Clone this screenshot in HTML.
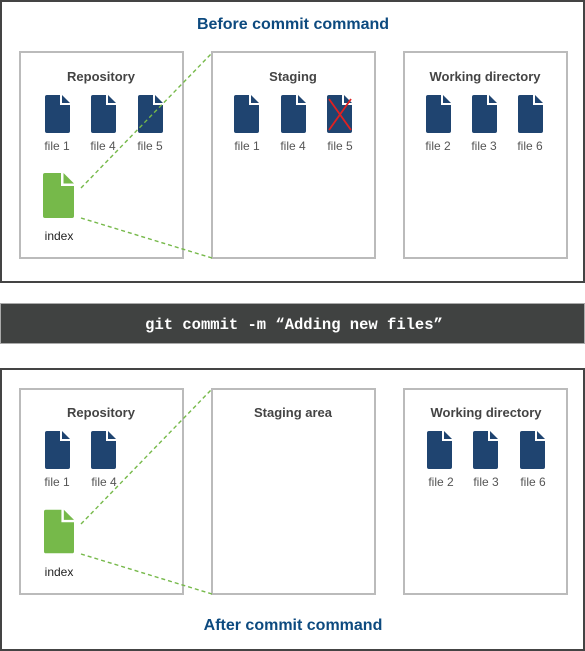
<!DOCTYPE html>
<html><head><meta charset="utf-8"><style>
html,body{margin:0;padding:0;background:#fff;}
svg{display:block;}
text{font-family:"Liberation Sans",sans-serif;}
</style></head><body>
<svg width="585" height="651" viewBox="0 0 585 651" xmlns="http://www.w3.org/2000/svg">
<defs>
<symbol id="f" viewBox="0 0 25 38" overflow="visible">
<path d="M2 0 H15 V10 H25 V36 Q25 38 23 38 H2 Q0 38 0 36 V2 Q0 0 2 0 Z"/>
<path d="M17 0 L25 8 H17 Z"/>
</symbol>
<symbol id="g" viewBox="0 0 31 45" overflow="visible">
<path d="M2 0 H18 V13 H31 V43 Q31 45 29 45 H2 Q0 45 0 43 V2 Q0 0 2 0 Z"/>
<path d="M20.5 0 L31 10.5 H20.5 Z"/>
</symbol>
</defs>
<rect x="1" y="1" width="583" height="281" fill="#fff" stroke="#444" stroke-width="2"/>
<text x="293" y="29" text-anchor="middle" font-size="16" font-weight="bold" fill="#0d4a7f">Before commit command</text>
<g fill="#fff" stroke="#bbb" stroke-width="2">
<rect x="20" y="52" width="163" height="206"/>
<rect x="212" y="52" width="163" height="206"/>
<rect x="404" y="52" width="163" height="206"/>
</g>
<g font-size="13" font-weight="bold" fill="#444" text-anchor="middle">
<text x="101" y="81">Repository</text>
<text x="293" y="81">Staging</text>
<text x="485" y="81">Working directory</text>
</g>
<g fill="#1f4470">
<use href="#f" x="45" y="95" width="25" height="38"/>
<use href="#f" x="91" y="95" width="25" height="38"/>
<use href="#f" x="138" y="95" width="25" height="38"/>
<use href="#f" x="234" y="95" width="25" height="38"/>
<use href="#f" x="281" y="95" width="25" height="38"/>
<use href="#f" x="327" y="95" width="25" height="38"/>
<use href="#f" x="426" y="95" width="25" height="38"/>
<use href="#f" x="472" y="95" width="25" height="38"/>
<use href="#f" x="518" y="95" width="25" height="38"/>
</g>
<path d="M329 130 L351 99 M329 99 L351 130" stroke="#e02020" stroke-width="1.8"/>
<g font-size="12" fill="#555" text-anchor="middle">
<text x="57" y="150">file 1</text><text x="103" y="150">file 4</text><text x="150" y="150">file 5</text>
<text x="247" y="150">file 1</text><text x="293" y="150">file 4</text><text x="340" y="150">file 5</text>
<text x="438" y="150">file 2</text><text x="484" y="150">file 3</text><text x="530" y="150">file 6</text>
</g>
<use href="#g" x="43" y="173" width="31" height="45" fill="#76b94a"/>
<text x="59" y="240" font-size="12" fill="#222" text-anchor="middle">index</text>
<g stroke="#76b94a" stroke-width="1.4" stroke-dasharray="4,3" fill="none">
<path d="M81 188 L212 53"/>
<path d="M81 218 L212 258"/>
</g>
<rect x="0.5" y="303.5" width="584" height="40" fill="#404241" stroke="#aaa" stroke-width="1"/>
<text x="294" y="329" text-anchor="middle" font-size="15.5" font-weight="bold" fill="#fff" style="font-family:'Liberation Mono',monospace">git commit -m “Adding new files”</text>
<rect x="1" y="369" width="583" height="281" fill="#fff" stroke="#444" stroke-width="2"/>
<g fill="#fff" stroke="#bbb" stroke-width="2">
<rect x="20" y="389" width="163" height="205"/>
<rect x="212" y="389" width="163" height="205"/>
<rect x="404" y="389" width="163" height="205"/>
</g>
<g font-size="13" font-weight="bold" fill="#444" text-anchor="middle">
<text x="101" y="417">Repository</text>
<text x="293" y="417">Staging area</text>
<text x="486" y="417">Working directory</text>
</g>
<g fill="#1f4470">
<use href="#f" x="45" y="431" width="25" height="38"/>
<use href="#f" x="91" y="431" width="25" height="38"/>
<use href="#f" x="427" y="431" width="25" height="38"/>
<use href="#f" x="473" y="431" width="25" height="38"/>
<use href="#f" x="520" y="431" width="25" height="38"/>
</g>
<g font-size="12" fill="#555" text-anchor="middle">
<text x="57" y="486">file 1</text><text x="104" y="486">file 4</text>
<text x="441" y="486">file 2</text><text x="486" y="486">file 3</text><text x="533" y="486">file 6</text>
</g>
<use href="#g" x="44" y="509" width="30" height="45" fill="#76b94a"/>
<text x="59" y="576" font-size="12" fill="#222" text-anchor="middle">index</text>
<g stroke="#76b94a" stroke-width="1.4" stroke-dasharray="4,3" fill="none">
<path d="M81 524 L212 389"/>
<path d="M81 554 L212 594"/>
</g>
<text x="293" y="630" text-anchor="middle" font-size="16" font-weight="bold" fill="#0d4a7f">After commit command</text>
</svg>
</body></html>
